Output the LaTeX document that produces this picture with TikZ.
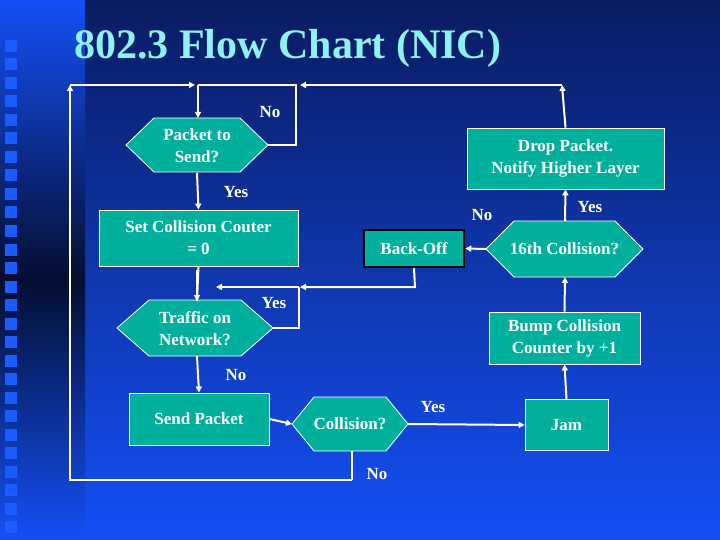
\documentclass[tikz,border=0pt]{standalone}
\usepackage{fontspec}
\setmainfont{Liberation Serif}
\usetikzlibrary{calc,arrows.meta}
\definecolor{teal1}{HTML}{00B09C}
\definecolor{navy}{HTML}{0A1C62}
\definecolor{blue1}{HTML}{1450F5}
\definecolor{strip}{HTML}{1A5CFF}
\definecolor{titlec}{HTML}{8EF2F0}
\tikzset{
  box/.style={rectangle,fill=teal1,draw=white,line width=0.8pt,text=white,font=\bfseries\fontsize{17}{22}\selectfont,align=center,inner sep=0pt},
  hexlabel/.style={text=white,font=\bfseries\fontsize{17}{22}\selectfont,align=center,inner sep=0pt},
  hexfill/.style={fill=teal1,draw=white,line width=0.8pt},
  lbl/.style={text=white,font=\bfseries\fontsize{17}{20}\selectfont,inner sep=0pt},
  flow/.style={draw=white,line width=2pt,-{Triangle[length=6pt,width=6pt]}},
  line/.style={draw=white,line width=2pt}
}
% hex: center x, center y, half width, half height, inset
\newcommand{\hexshape}[5]{\path[hexfill] (#1-#3,#2) -- (#1-#3+#5,#2-#4) -- (#1+#3-#5,#2-#4) -- (#1+#3,#2) -- (#1+#3-#5,#2+#4) -- (#1-#3+#5,#2+#4) -- cycle;}
\begin{document}
\begin{tikzpicture}[x=1pt,y=-1pt]
\useasboundingbox (0,0) rectangle (720,540);
\shade[top color=navy,bottom color=blue1] (85,0) rectangle (720,540);
\shade[top color=blue1,bottom color=navy!50!black] (0,0) rectangle (85,280);
\shade[top color=navy!50!black,bottom color=blue1] (0,280) rectangle (85,540);
\foreach \i in {0,...,26} {\fill[strip] (5,{40+\i*18.5}) rectangle (17,{52+\i*18.5});}
\node[text=titlec,font=\bfseries\fontsize{42}{46}\selectfont,anchor=west,inner sep=0pt] (title) at (74,48) {802.3 Flow Chart (NIC)};

% shapes
\hexshape{197}{145}{71}{27}{28}
\node[hexlabel] (pts) at (197,146) {Packet to\\Send?};
\node[box,minimum width=199pt,minimum height=56pt] (setc) at (198.5,238) {Set Collision Couter\\= 0};
\hexshape{195}{328}{78}{28}{32}
\node[hexlabel] (traffic) at (195,329) {Traffic on\\Network?};
\node[box,minimum width=140pt,minimum height=52pt] (send) at (199,419) {Send Packet};
\hexshape{350}{424}{58}{27}{22}
\node[hexlabel] (coll) at (350,424) {Collision?};
\node[box,minimum width=83pt,minimum height=51pt] (jam) at (566.5,425) {Jam};
\node[box,minimum width=151pt,minimum height=52pt] (bump) at (564.5,338) {Bump Collision\\Counter by +1};
\hexshape{564.5}{249}{78.5}{28}{28}
\node[hexlabel] (c16) at (564.5,249) {16th Collision?};
\node[box,draw=black,line width=2.5pt,minimum width=100pt,minimum height=37pt] (back) at (414,248.5) {Back-Off};
\node[box,minimum width=197pt,minimum height=61pt] (drop) at (565.5,158.5) {Drop Packet.\\Notify Higher Layer};

% helper coordinates
\coordinate (ptsT) at (198,118);
\coordinate (ptsR) at (268,145);
\coordinate (trfT) at (197,301);
\coordinate (trfB) at (197,356);
\coordinate (trfR) at (273,328);
\coordinate (colB) at (352,451);
\coordinate (colL) at (292,424);
\coordinate (colR) at (408,424);
\coordinate (c16T) at (565,221);
\coordinate (c16B) at (565,277);
\coordinate (c16L) at (486,249);
\coordinate (top) at (198,85);
\coordinate (lane) at (197,287);

% connectors
\draw[flow] (top) -- (ptsT);
\draw[line] (ptsR) -- (296,145) -- (296,85) -- (top);
\draw[flow] (drop.north) -- (562,85);
\draw[flow] (562,85) -- (300,85);
\draw[flow] (197,173) -- (setc.north);
\draw[line] (setc.south) -- (trfT);
\draw[flow] (197,270) -- (trfT);
\draw[line] (trfR) -- (299,328) -- (299,287);
\draw[flow] (299,287) -- (216,287);
\draw[flow] (back.south) -- (415,287) -- (300,287);
\draw[flow] (trfB) -- (send.north);
\draw[flow] (send.east) -- (colL);
\draw[flow] (colR) -- (jam.west);
\draw[line] (colB) -- (352,480);
\draw[flow] (352,480) -- (70,480) -- (70,85);
\draw[flow] (70,85) -- (195,85);
\draw[flow] (jam.north) -- (bump.south);
\draw[flow] (bump.north) -- (c16B);
\draw[flow] (c16T) -- (drop.south);
\draw[flow] (c16L) -- (back.east);

% labels
\node[lbl] (l1) at (270,112) {No};
\node[lbl] (l2) at (236,192) {Yes};
\node[lbl] (l3) at (274,303) {Yes};
\node[lbl] (l4) at (236,375) {No};
\node[lbl] (l5) at (433,407) {Yes};
\node[lbl] (l6) at (377,474) {No};
\node[lbl] (l7) at (482,215) {No};
\node[lbl] (l8) at (590,207) {Yes};
\end{tikzpicture}
\end{document}
